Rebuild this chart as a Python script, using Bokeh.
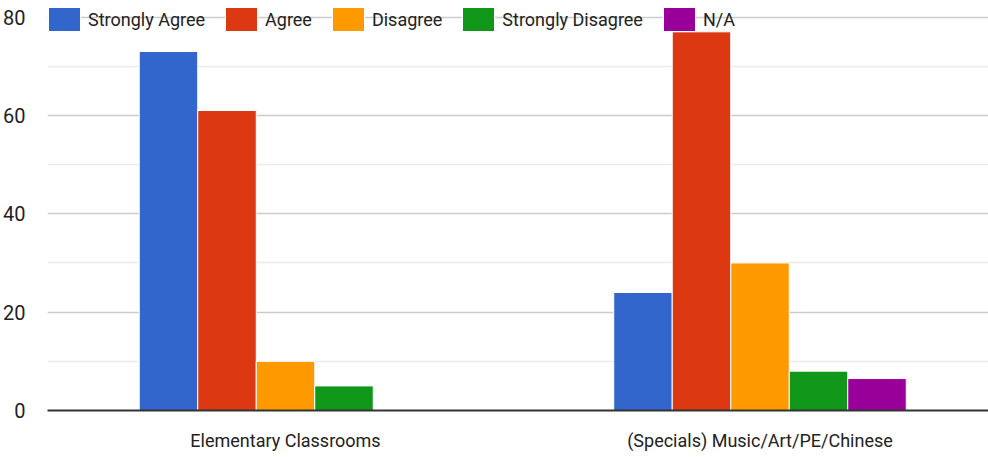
from bokeh.plotting import figure
from bokeh.models import ColumnDataSource, Range1d, FixedTicker, Legend, LegendItem
from bokeh.transform import dodge
from bokeh.embed import file_html
from bokeh.resources import INLINE

categories = ["Elementary Classrooms", "(Specials) Music/Art/PE/Chinese"]
series = ["Strongly Agree", "Agree", "Disagree", "Strongly Disagree", "N/A"]
strongly_agree = [73, 24]
agree = [61, 77]
disagree = [10, 30]
strongly_disagree = [5, 8]
not_applicable = [0, 6.5]
y_ticks = [0, 20, 40, 60, 80]
y_minor_ticks = [10, 30, 50, 70]
colors = ["#3366cc", "#dc3912", "#ff9900", "#109618", "#990099"]

FONT = "Roboto"
TEXT_COLOR = "#222222"

xs = list(range(len(categories)))
source = ColumnDataSource(dict(
    x=xs,
    sa=strongly_agree,
    ag=agree,
    di=disagree,
    sd=strongly_disagree,
    na=not_applicable,
))
cols = ["sa", "ag", "di", "sd", "na"]

p = figure(width=988, height=457, output_backend="svg", toolbar_location=None,
           x_range=Range1d(-0.5016, 1.4816), y_range=Range1d(0, 83.37),
           min_border_left=47, min_border_right=0, min_border_top=0, min_border_bottom=47)
p.outline_line_color = None
p.background_fill_color = "white"
p.border_fill_color = "white"

bar_w = 0.1233
items = []
for i, (col, name, c) in enumerate(zip(cols, series, colors)):
    off = (i - 2) * bar_w
    r = p.vbar(x=dodge("x", off), top=col, width=bar_w, bottom=0, source=source,
               fill_color=c, line_color="white", line_width=1)
    items.append(LegendItem(label=name, renderers=[r]))

legend = Legend(items=items, location=(-3, 376), orientation="horizontal",
                glyph_width=40, glyph_height=30, label_height=30, label_standoff=4,
                spacing=16, padding=0, margin=0,
                background_fill_alpha=0, border_line_color=None,
                label_text_font=FONT, label_text_font_size="18px",
                label_text_color=TEXT_COLOR)
p.add_layout(legend, "center")

# axes
p.xaxis.ticker = FixedTicker(ticks=xs)
p.xaxis.major_label_overrides = {float(i): c for i, c in zip(xs, categories)}
p.xaxis.major_tick_line_color = None
p.xaxis.minor_tick_line_color = None
p.xaxis.axis_line_color = "#333333"
p.xaxis.axis_line_width = 2
p.xaxis.major_label_standoff = 13
p.xaxis.major_label_text_font = FONT
p.xaxis.major_label_text_font_size = "18px"
p.xaxis.major_label_text_color = TEXT_COLOR

p.yaxis.ticker = FixedTicker(ticks=y_ticks, minor_ticks=y_minor_ticks)
p.yaxis.major_tick_line_color = None
p.yaxis.minor_tick_line_color = None
p.yaxis.axis_line_color = None
p.yaxis.major_label_standoff = 16
p.yaxis.major_label_text_font = FONT
p.yaxis.major_label_text_font_size = "20px"
p.yaxis.major_label_text_color = TEXT_COLOR

p.xgrid.grid_line_color = None
p.ygrid.grid_line_color = "#cccccc"
p.ygrid.grid_line_width = 1.5
p.ygrid.minor_grid_line_color = "#ebebeb"
p.ygrid.minor_grid_line_width = 1.5

open("out.html", "w").write(file_html(p, INLINE))
